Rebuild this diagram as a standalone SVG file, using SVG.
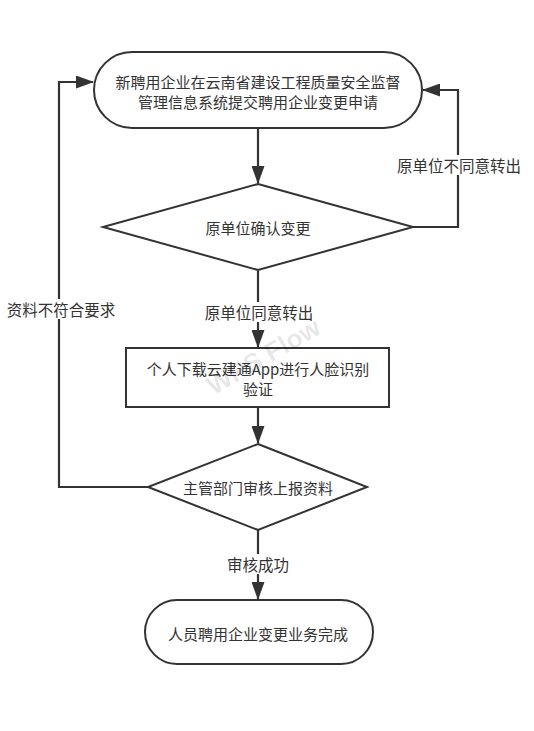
<svg xmlns="http://www.w3.org/2000/svg" width="534" height="731" viewBox="0 0 534 731">
<defs>
<marker id="arr" markerUnits="userSpaceOnUse" markerWidth="18" markerHeight="13" refX="17" refY="6.5" viewBox="0 0 18 13" orient="auto">
<path d="M0,0 L18,6.5 L0,13 Z" fill="#333"/>
</marker>
<style>
.shape{fill:#fff;stroke:#333;stroke-width:2}
.conn{fill:none;stroke:#333;stroke-width:2.2}
.t{font-family:"Noto Sans CJK SC","Noto Sans",sans-serif;font-size:15px;fill:#333;text-anchor:middle;dominant-baseline:central}
.bg{fill:#fff}
</style>
</defs>
<rect width="534" height="731" fill="#fff"/>
<g id="connectors">
<path class="conn" d="M258,128 V183" marker-end="url(#arr)"/>
<path class="conn" d="M413,227 H458 V90 H423" marker-end="url(#arr)"/>
<path class="conn" d="M258,270 V347" marker-end="url(#arr)"/>
<path class="conn" d="M258,407 V443" marker-end="url(#arr)"/>
<path class="conn" d="M148,487 H59 V82 H93" marker-end="url(#arr)"/>
<path class="conn" d="M258,530 V599" marker-end="url(#arr)"/>
<rect class="bg" x="395" y="155" width="128" height="20"/>
<text class="t" x="459" y="165" style="font-size:15.5px">原单位不同意转出</text>
<rect class="bg" x="203" y="302" width="112" height="20"/>
<text class="t" x="259" y="312" style="font-size:15.5px">原单位同意转出</text>
<rect class="bg" x="4" y="299" width="114" height="20"/>
<text class="t" x="61" y="309" style="font-size:15.5px">资料不符合要求</text>
<rect class="bg" x="226" y="554" width="64" height="20"/>
<text class="t" x="258" y="564" style="font-size:15.5px">审核成功</text>
</g>
<g id="start">
<rect class="shape" x="94" y="52" width="328" height="76" rx="38" ry="38"/>
<text class="t" x="258" y="81">新聘用企业在云南省建设工程质量安全监督</text>
<text class="t" x="258" y="101">管理信息系统提交聘用企业变更申请</text>
</g>
<g id="confirm">
<polygon class="shape" points="258,184 413,227 258,270 103,227"/>
<text class="t" x="258" y="227">原单位确认变更</text>
</g>
<g id="face">
<rect class="shape" x="126" y="348" width="263" height="59"/>
<text class="t" x="258" y="368">个人下载云建通App进行人脸识别</text>
<text class="t" x="258" y="388">验证</text>
</g>
<g id="review">
<polygon class="shape" points="258,444 367,487 258,530 148,487"/>
<text class="t" x="258" y="487">主管部门审核上报资料</text>
</g>
<g id="end">
<rect class="shape" x="145" y="600" width="228" height="64" rx="32" ry="32"/>
<text class="t" x="258" y="633">人员聘用企业变更业务完成</text>
</g>
<text x="268" y="364" transform="rotate(-30 268 364)" font-family="Liberation Sans,sans-serif" font-weight="bold" font-size="26" fill="#000" fill-opacity="0.1" text-anchor="middle">WPS Flow</text>
</svg>
